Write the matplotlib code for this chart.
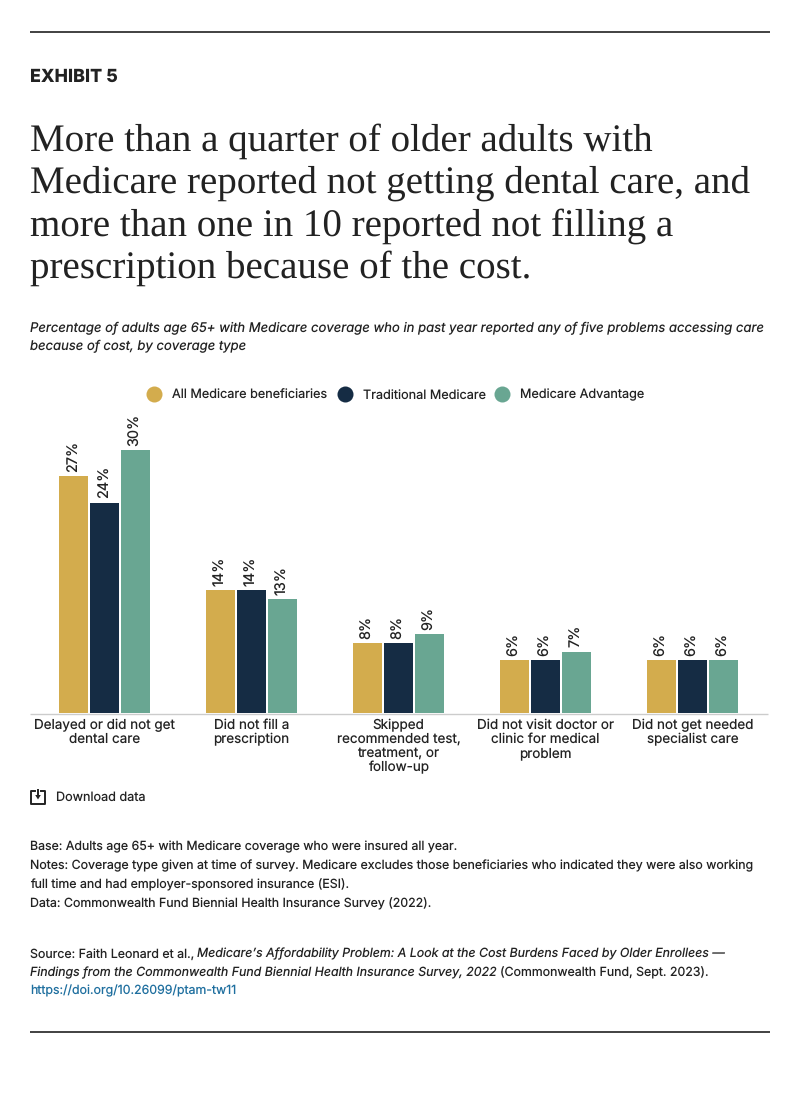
import matplotlib
matplotlib.use("Agg")
import matplotlib.pyplot as plt
import numpy as np

categories = ["Delayed or did not get\ndental care", "Did not fill a\nprescription",
              "Skipped\nrecommended test,\ntreatment, or\nfollow-up",
              "Did not visit doctor or\nclinic for medical\nproblem",
              "Did not get needed\nspecialist care"]
series_names = ["All Medicare beneficiaries", "Traditional Medicare", "Medicare Advantage"]
all_medicare = [27, 14, 8, 6, 6]
traditional = [24, 14, 8, 6, 6]
advantage = [30, 13, 9, 7, 6]
colors = ["#D3AC4D", "#152C44", "#69A692"]

W, H = 800, 1094
plt.rcParams['font.family'] = ['Inter', 'DejaVu Sans']
plt.rcParams['text.hinting'] = 'no_hinting'
plt.rcParams['text.hinting_factor'] = 1
fig = plt.figure(figsize=(W/100, H/100), dpi=100)
bg = fig.add_axes([0, 0, 1, 1]); bg.set_xlim(0, W); bg.set_ylim(H, 0); bg.axis('off')

for y in (32, 1032):
    bg.plot([30, 770], [y, y], color="#333333", lw=1.3, solid_capstyle='butt')

TXT = "#222222"
bg.text(30, 77, "EXHIBIT 5", fontsize=12.9, weight='heavy', va='center', color=TXT)
title = ["More than a quarter of older adults with",
         "Medicare reported not getting dental care, and",
         "more than one in 10 reported not filling a",
         "prescription because of the cost."]
for i, t in enumerate(title):
    bg.text(30, 141 + i*42.3, t, fontsize=28.0, family=['Liberation Serif', 'DejaVu Serif'], va='center', color=TXT)
bg.text(30, 328, "Percentage of adults age 65+ with Medicare coverage who in past year reported any of five problems accessing care",
        fontsize=9.43, style='italic', va='center', color=TXT)
bg.text(30, 346.5, "because of cost, by coverage type", fontsize=9.43, style='italic', va='center', color=TXT)

# legend
for x, tx, c, n in zip((154, 345, 502), (172, 363, 520), colors, series_names):
    bg.scatter([x], [394], s=133, color=c, linewidths=0)
    bg.text(tx, 395, n, fontsize=9.12, va='center', color=TXT)

# chart
ax = fig.add_axes([31/W, 1-713/H, 735/W, 293/H])
ax.set_xlim(0, 5); ax.set_ylim(0, 293/8.77)
ax.axis('off')
bw = 29.3/147; step = 31/147
for j, vals in enumerate((all_medicare, traditional, advantage)):
    xs = np.arange(5) + 0.5 + (j-1)*step
    ax.bar(xs, vals, width=bw, color=colors[j])
    for x, v in zip(xs, vals):
        ax.annotate(f"{v}%", (x, v), xytext=(0, 3), textcoords='offset points', rotation=90,
                    ha='center', va='bottom', fontsize=10.4, color=TXT)
bg.plot([30, 768], [713.5, 713.5], color="#CCCCCC", lw=1, solid_capstyle='butt')

for i, c in enumerate(categories):
    for k, line in enumerate(c.split("\n")):
        bg.text(31 + 147*(i+0.5), 725 + k*14.2, line, fontsize=9.7, ha='center', va='center', color=TXT)

# download icon
bg.plot([35, 31, 31, 45, 45, 41], [790.5, 790.5, 804, 804, 790.5, 790.5], color=TXT, lw=1.4, solid_joinstyle='round')
bg.plot([38, 38], [790, 797], color=TXT, lw=1.4)
bg.fill([35.2, 40.8, 38], [795, 795, 799.5], color=TXT, lw=0)
bg.text(55.5, 797.5, "Download data", fontsize=9.1, va='center', color=TXT)

fs = 8.92
notes = ["Base: Adults age 65+ with Medicare coverage who were insured all year.",
         "Notes: Coverage type given at time of survey. Medicare excludes those beneficiaries who indicated they were also working",
         "full time and had employer-sponsored insurance (ESI).",
         "Data: Commonwealth Fund Biennial Health Insurance Survey (2022)."]
for i, t in enumerate(notes):
    bg.text(30, 847 + i*18.8, t, fontsize=fs, va='center', color=TXT)

renderer = fig.canvas.get_renderer()
def chain(x, y, parts):
    for s, style in parts:
        t = bg.text(x, y, s, fontsize=fs, style=style, va='center', color=TXT)
        x = bg.transData.inverted().transform(t.get_window_extent(renderer).get_points())[1, 0] + 3

chain(30, 954, [("Source: Faith Leonard et al.,", 'normal'),
                ("Medicare’s Affordability Problem: A Look at the Cost Burdens Faced by Older Enrollees —", 'italic')])
chain(30, 972.5, [("Findings from the Commonwealth Fund Biennial Health Insurance Survey, 2022", 'italic'),
                  ("(Commonwealth Fund, Sept. 2023).", 'normal')])
bg.text(30, 991, "https://doi.org/10.26099/ptam-tw11", fontsize=fs, va='center', color="#1F6F9F")

fig.savefig("out.png", dpi=100, facecolor="white")
